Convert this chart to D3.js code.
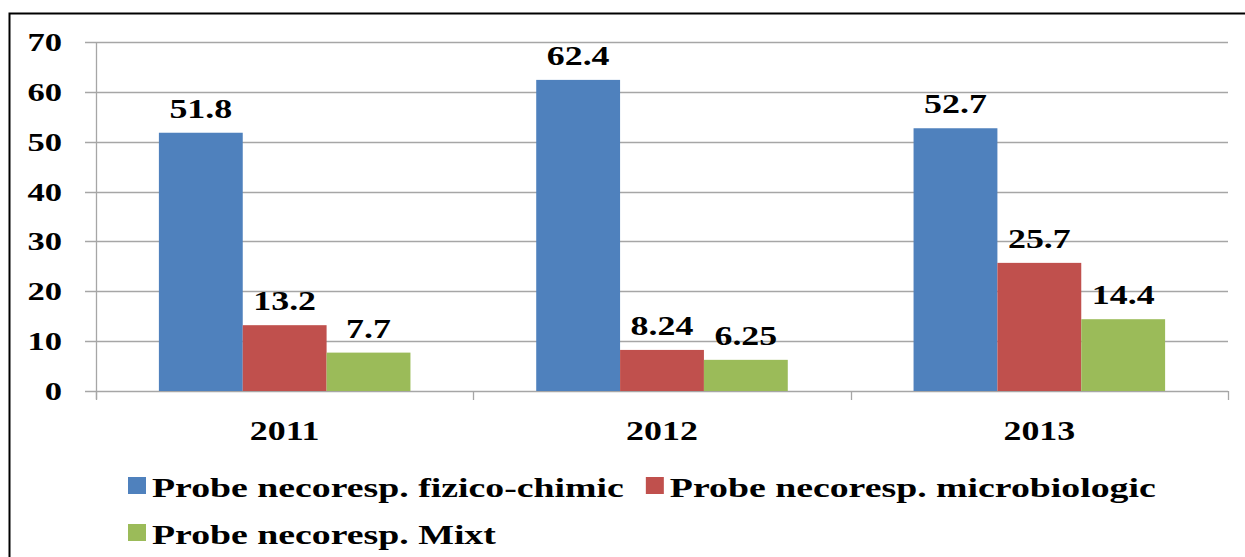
<!DOCTYPE html>
<html>
<head>
<meta charset="utf-8">
<script src="https://cdn.jsdelivr.net/npm/d3@7"></script>
<style>
  html, body { margin: 0; padding: 0; background: #fff; }
  svg { display: block; }
  text { font-family: "Liberation Serif", "Times New Roman", serif; font-weight: bold; fill: #000; }
</style>
</head>
<body>
<svg id="chart" width="1245" height="557"></svg>
<script>
// Non-compliant samples per year, by analysis type
const years = ["2011", "2012", "2013"];
const seriesNames = [
  "Probe necoresp. fizico-chimic",
  "Probe necoresp. microbiologic",
  "Probe necoresp. Mixt"
];
const fizicoChimic = [51.8, 62.4, 52.7];
const microbiologic = [13.2, 8.24, 25.7];
const mixt = [7.7, 6.25, 14.4];
const yTicks = [0, 10, 20, 30, 40, 50, 60, 70];
const colors = ["#4F81BD", "#C0504D", "#9BBB59"];

const seriesValues = [fizicoChimic, microbiologic, mixt];
const rows = years.map((y, i) => ({
  year: y,
  values: seriesNames.map((s, k) => ({ series: s, value: seriesValues[k][i], color: colors[k] }))
}));

const svg = d3.select("#chart");
const stretch = 1.33; // glyphs are drawn a little wider than tall

// outer frame
svg.append("rect")
  .attr("x", 9.5).attr("y", 13.5)
  .attr("width", 1250).attr("height", 600)
  .attr("fill", "none").attr("stroke", "#000").attr("stroke-width", 2);

const plot = { left: 96, right: 1228, top: 42, bottom: 391 };

const x0 = d3.scaleBand().domain(years).range([plot.left, plot.right]).paddingInner(0).paddingOuter(0);
const x1 = d3.scaleBand().domain(seriesNames).range([0, x0.bandwidth()]).paddingInner(0).paddingOuter(0.75);
const y = d3.scaleLinear().domain([0, 70]).range([plot.bottom, plot.top]);

// horizontal gridlines with short ticks left of the value axis
const grid = svg.append("g");
grid.selectAll("line").data(yTicks).join("line")
  .attr("x1", plot.left - 11).attr("x2", plot.right)
  .attr("y1", d => Math.round(y(d)) + 0.5).attr("y2", d => Math.round(y(d)) + 0.5)
  .attr("stroke", "#a6a6a6").attr("stroke-width", 1.3);

// value axis line
svg.append("line")
  .attr("x1", plot.left + 0.5).attr("x2", plot.left + 0.5)
  .attr("y1", plot.top).attr("y2", plot.bottom + 8)
  .attr("stroke", "#a6a6a6").attr("stroke-width", 1.3);

// category tick marks at group boundaries
const bounds = years.map(d => x0(d) + x0.bandwidth()).concat([plot.left]);
svg.append("g").selectAll("line").data(bounds).join("line")
  .attr("x1", d => Math.round(d) + 0.5).attr("x2", d => Math.round(d) + 0.5)
  .attr("y1", plot.bottom).attr("y2", plot.bottom + 9)
  .attr("stroke", "#a6a6a6").attr("stroke-width", 1.3);

// y tick labels
svg.append("g").selectAll("text").data(yTicks).join("text")
  .attr("transform", d => `translate(62,${y(d) + 9}) scale(${stretch},1)`)
  .attr("text-anchor", "end")
  .style("font-size", "26px")
  .text(d => d);

// bars
const groups = svg.append("g").selectAll("g").data(rows).join("g")
  .attr("transform", d => `translate(${x0(d.year)},0)`);

groups.selectAll("rect").data(d => d.values).join("rect")
  .attr("x", d => x1(d.series))
  .attr("y", d => y(d.value))
  .attr("width", x1.bandwidth())
  .attr("height", d => y(0) - y(d.value))
  .attr("fill", d => d.color);

// value labels above bars
groups.selectAll("text").data(d => d.values).join("text")
  .attr("transform", d => `translate(${x1(d.series) + x1.bandwidth() / 2},${y(d.value) - 15}) scale(${stretch},1)`)
  .attr("text-anchor", "middle")
  .style("font-size", "27px")
  .text(d => String(d.value));

// category labels
svg.append("g").selectAll("text").data(years).join("text")
  .attr("transform", d => `translate(${x0(d) + x0.bandwidth() / 2},440) scale(${stretch},1)`)
  .attr("text-anchor", "middle")
  .style("font-size", "27px")
  .text(d => d);

// legend
const legendRows = [[0, 1], [2]];
const legendY = [497, 544];
const legendStretch = 1.35;
const legend = svg.append("g");
legendRows.forEach((items, r) => {
  let cx = 128;
  items.forEach(k => {
    legend.append("rect")
      .attr("x", cx).attr("y", legendY[r] - 20)
      .attr("width", 18).attr("height", 17)
      .attr("fill", colors[k]);
    const t = legend.append("text")
      .attr("transform", `translate(${cx + 24},${legendY[r]}) scale(${legendStretch},1)`)
      .style("font-size", "28px")
      .text(seriesNames[k]);
    const w = t.node().getComputedTextLength() * legendStretch;
    cx = cx + 24 + w + 22;
  });
});
</script>
</body>
</html>
